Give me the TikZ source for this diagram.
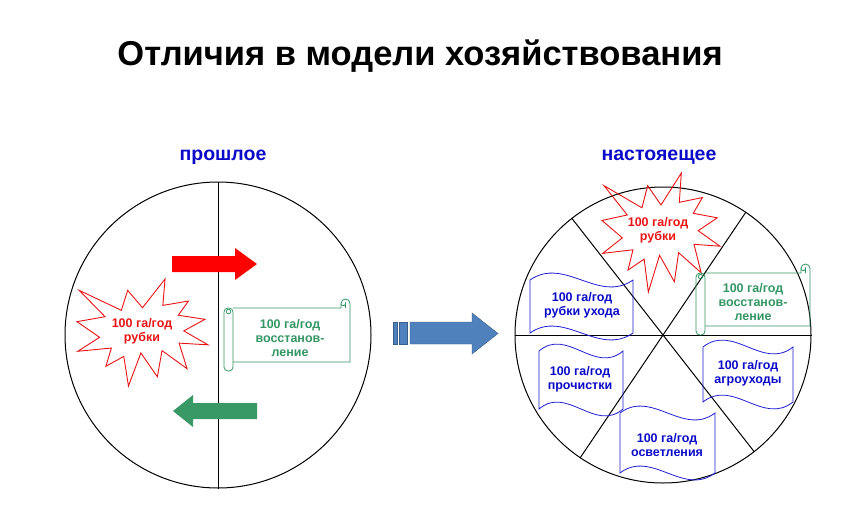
\documentclass[tikz,border=0pt]{standalone}
\usepackage{fontspec}
\setmainfont{Liberation Sans}

\definecolor{cutred}{RGB}{232,20,20}
\definecolor{regreen}{RGB}{51,150,100}
\definecolor{arrgreen}{RGB}{56,152,102}
\definecolor{txtblue}{RGB}{10,10,200}
\definecolor{tapeblue}{RGB}{30,30,210}
\definecolor{arrblue}{RGB}{79,129,189}
\definecolor{arrblueline}{RGB}{56,93,138}

% explosion outline: corner (#1,#2), size #3 x #4
\newcommand{\blast}[4]{%
  \begin{scope}[shift={(#1,#2)}, xscale=#3/100, yscale=#4/100]
    \draw[cutred, line width=0.9pt, line join=miter] (50,26.85) -- (67.23,0) -- (65.53,24.65) -- (85.09,20.63)
      -- (77.32,33.87) -- (97.67,37.67) -- (81.51,48.50) -- (100,61.53) -- (77.95,59.92)
      -- (84.00,83.77) -- (64.91,66.93) -- (61.33,91.38) -- (48.76,69.14) -- (39.28,100)
      -- (35.72,72.35) -- (22.05,81.56) -- (26.24,64.52) -- (0.63,67.53) -- (17.23,54.51)
      -- (0,39.88) -- (21.42,35.26) -- (1.71,10.63) -- (33.85,29.26) -- (38.67,10.63) -- cycle;
  \end{scope}}

% scroll outline: corners (#1,#2) and (#3,#4), roll size #5
\newcommand{\scrollshape}[5]{%
  \draw[regreen, line width=0.8pt] (#1+#5,#2+#5) -- (#3-#5,#2+#5) -- (#3-#5,#2+#5/2)
    arc[start angle=180, end angle=360, radius=#5/2] -- (#3,#4-#5) -- (#1+#5,#4-#5);
  \draw[regreen, line width=0.8pt] (#3-#5/2,#2+#5) -- (#3-#5/2,#2+#5/2)
    arc[start angle=0, end angle=180, radius=#5/4];
  \draw[regreen, line width=0.8pt, rounded corners=4pt] (#1,#2+#5) rectangle (#1+#5,#4);
  \draw[regreen, line width=0.8pt] (#1+#5/2,#2+#5*1.4) circle[radius=#5/4];}

% wave banner: corners (#1,#2) and (#3,#4)
\newcommand{\wavebox}[4]{%
  \draw[tapeblue, line width=0.8pt] (#1,#2) .. controls (#1/3*2+#3/3,#2-24) and (#1/3+#3/3*2,#2+24) .. (#3,#2)
    -- (#3,#4) .. controls (#1/3+#3/3*2,#4+24) and (#1/3*2+#3/3,#4-24) .. (#1,#4) -- cycle;}

\begin{document}
\begin{tikzpicture}[x=1pt, y=-1pt,
    lbl/.style={font=\bfseries\fontsize{12.5}{14}\selectfont, align=center, inner sep=0pt},
    redtxt/.style={lbl, text=cutred},
    greentxt/.style={lbl, text=regreen},
    bluetxt/.style={lbl, text=txtblue},
    head/.style={font=\bfseries\fontsize{19.5}{23}\selectfont, text=txtblue}]
  \fill[white] (0,0) rectangle (859,527);
  \useasboundingbox (0,0) rectangle (859,527);

  \node[font=\bfseries\fontsize{34.5}{40}\selectfont] (title) at (420,56) {Отличия в модели хозяйствования};
  \node[head] (past) at (223,157) {прошлое};
  \node[head] (now) at (659,157) {настояещее};

  % left circle
  \node[circle, draw, line width=1pt, minimum size=306pt, inner sep=0pt] (pc) at (218,335) {};
  \draw[line width=1pt] (pc.north) -- (pc.south);
  \fill[red] (172,256) -- (235,256) -- (235,248) -- (257,264) -- (235,280) -- (235,272) -- (172,272) -- cycle;
  \fill[arrgreen] (257,403) -- (193,403) -- (193,395) -- (173,411) -- (193,427) -- (193,419) -- (257,419) -- cycle;
  \blast{77}{279}{131}{107}
  \node[redtxt] (lcut) at (142,331) {100 га/год\\рубки};
  \scrollshape{224}{299}{350}{371}{9}
  \node[greentxt] (lreg) at (290,338) {100 га/год\\восстанов-\\ление};

  % middle arrow
  \filldraw[fill=arrblue, draw=arrblueline] (393,322) rectangle (397,344);
  \filldraw[fill=arrblue, draw=arrblueline] (399,322) rectangle (407,344);
  \filldraw[fill=arrblue, draw=arrblueline] (410,322) -- (472,322) -- (472,313) -- (498,333.5)
    -- (472,354) -- (472,344) -- (410,344) -- cycle;

  % right circle
  \node[circle, draw, line width=1pt, minimum size=296pt, inner sep=0pt] (nc) at (663,335) {};
  \draw[line width=1pt] (nc.west) -- (nc.east);
  \draw[line width=1pt] (nc.128) -- (nc.308);
  \draw[line width=1pt] (nc.56) -- (nc.236);
  \blast{602}{173}{118}{119}
  \node[redtxt] (rcut) at (658,230) {100 га/год\\рубки};
  \scrollshape{696}{264}{810}{335}{9}
  \node[greentxt] (rreg) at (753,302) {100 га/год\\восстанов-\\ление};
  \wavebox{530}{280}{633}{333}
  \node[bluetxt] (thin) at (582,305) {100 га/год\\рубки ухода};
  \wavebox{539}{351}{623}{409}
  \node[bluetxt] (clean) at (580,379) {100 га/год\\прочистки};
  \wavebox{703}{347}{793}{402}
  \node[bluetxt] (agro) at (748,373) {100 га/год\\агроуходы};
  \wavebox{620}{413}{715}{473}
  \node[bluetxt] (light) at (667,445) {100 га/год\\осветления};
\end{tikzpicture}
\end{document}
